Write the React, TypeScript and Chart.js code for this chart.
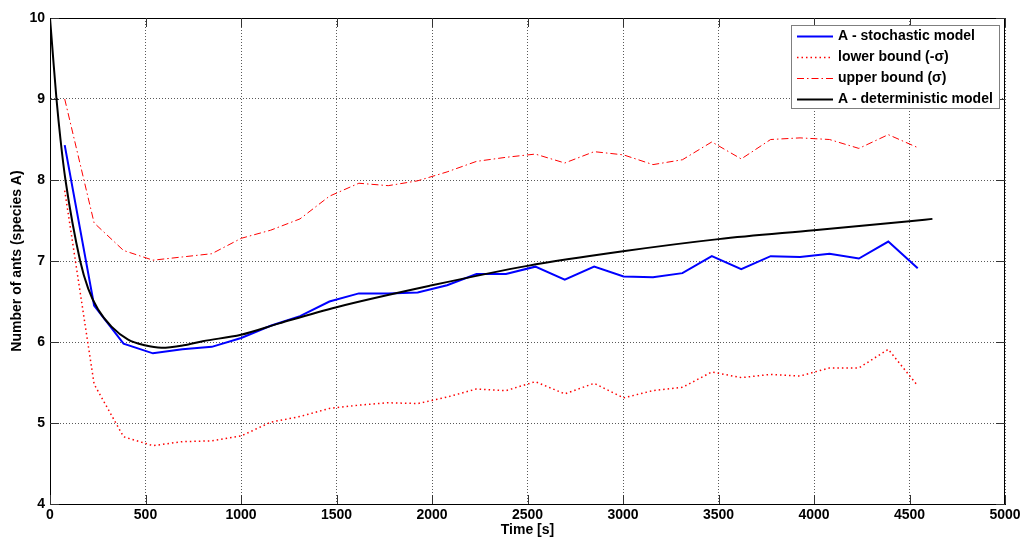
import React, { useEffect, useRef } from "react";
import { Chart, registerables } from "chart.js";

Chart.register(...registerables);

// Sample times of the stochastic simulation (s)
const sampleTimes = [77, 231, 385, 539, 693, 847, 1001, 1155, 1309, 1463, 1617, 1771, 1925, 2079, 2233, 2387, 2541, 2695, 2849, 3003, 3157, 3311, 3465, 3619, 3773, 3927, 4081, 4235, 4389, 4543];
const stochasticValues = [8.43, 6.45, 5.98, 5.86, 5.91, 5.94, 6.05, 6.2, 6.32, 6.5, 6.6, 6.6, 6.61, 6.7, 6.84, 6.84, 6.93, 6.77, 6.93, 6.81, 6.8, 6.85, 7.06, 6.9, 7.06, 7.05, 7.09, 7.03, 7.24, 6.91];
const lowerValues = [7.87, 5.48, 4.83, 4.72, 4.77, 4.78, 4.84, 5.01, 5.08, 5.18, 5.22, 5.25, 5.24, 5.32, 5.42, 5.4, 5.51, 5.36, 5.49, 5.31, 5.4, 5.44, 5.63, 5.56, 5.6, 5.58, 5.68, 5.68, 5.91, 5.46];
const upperValues = [9.0, 7.47, 7.13, 7.01, 7.05, 7.09, 7.28, 7.38, 7.52, 7.8, 7.96, 7.93, 7.99, 8.1, 8.23, 8.28, 8.32, 8.21, 8.35, 8.31, 8.19, 8.25, 8.47, 8.26, 8.5, 8.52, 8.5, 8.39, 8.56, 8.4];

// Deterministic model curve
const detTimes = [0, 15, 34, 55, 81, 158, 200, 252, 322, 409, 496, 584, 700, 800, 1000, 1200, 1500, 2000, 2500, 3000, 3500, 4000, 4500, 4620];
const detValues = [10, 9.55, 9.0, 8.5, 8.0, 7.0, 6.66, 6.4, 6.19, 6.03, 5.96, 5.93, 5.96, 6.01, 6.09, 6.23, 6.43, 6.7, 6.94, 7.12, 7.27, 7.38, 7.49, 7.52];

const seriesLabels = ["A - stochastic model", "lower bound (-σ)", "upper bound (σ)", "A - deterministic model"];
const xTitle = "Time [s]";
const yTitle = "Number of ants (species A)";

const FONT = "'Liberation Sans', Arial, sans-serif";

const boxPlugin = {
  id: "boxAndTicks",
  beforeDatasetsDraw(chart: any) {
    const { ctx, chartArea: a, scales } = chart;
    ctx.save();
    ctx.strokeStyle = "#000";
    ctx.lineWidth = 1;
    ctx.strokeRect(a.left + 0.5, a.top + 0.5, a.right - a.left - 1, a.bottom - a.top);
    ctx.strokeStyle = "#333";
    const tl = 9;
    scales.x.ticks.forEach((t: any) => {
      const px = Math.round(scales.x.getPixelForValue(t.value)) + 0.5;
      ctx.beginPath();
      ctx.moveTo(px, a.bottom);
      ctx.lineTo(px, a.bottom - tl);
      ctx.moveTo(px, a.top);
      ctx.lineTo(px, a.top + tl);
      ctx.stroke();
    });
    scales.y.ticks.forEach((t: any) => {
      const py = Math.round(scales.y.getPixelForValue(t.value)) + 0.5;
      ctx.beginPath();
      ctx.moveTo(a.left, py);
      ctx.lineTo(a.left + tl, py);
      ctx.moveTo(a.right, py);
      ctx.lineTo(a.right - tl, py);
      ctx.stroke();
    });
    ctx.restore();
  },
};

const legendPlugin = {
  id: "insideLegend",
  afterDraw(chart: any) {
    const { ctx } = chart;
    const ds = chart.data.datasets;
    const bx = 791, by = 25, bw = 208, bh = 83;
    ctx.save();
    ctx.fillStyle = "#fff";
    ctx.fillRect(bx, by, bw, bh);
    ctx.strokeStyle = "#7f7f7f";
    ctx.lineWidth = 1;
    ctx.strokeRect(bx + 0.5, by + 0.5, bw, bh);
    ctx.font = `bold 14px ${FONT}`;
    ctx.textBaseline = "middle";
    ctx.fillStyle = "#000";
    [0, 1, 2, 3].forEach((i, row) => {
      const d = ds[i];
      const y = by + 11 + row * 21 + 0.5;
      ctx.beginPath();
      ctx.strokeStyle = d.borderColor;
      ctx.lineWidth = d.borderWidth;
      ctx.setLineDash(d.borderDash || []);
      ctx.moveTo(797, y);
      ctx.lineTo(833, y);
      ctx.stroke();
      ctx.setLineDash([]);
      ctx.fillText(d.label, 838, y);
    });
    ctx.restore();
  },
};

export default function App() {
  const ref = useRef<HTMLCanvasElement>(null);
  useEffect(() => {
    if (!ref.current) return;
    const toPts = (xs: number[], ys: number[]) => xs.map((x, i) => ({ x, y: ys[i] }));
    const chart = new Chart(ref.current, {
      type: "line",
      data: {
        datasets: [
          {
            label: seriesLabels[0],
            data: toPts(sampleTimes, stochasticValues),
            borderColor: "#0000ff",
            borderWidth: 2,
            pointRadius: 0,
            order: 1,
          },
          {
            label: seriesLabels[1],
            data: toPts(sampleTimes, lowerValues),
            borderColor: "#ff0000",
            borderWidth: 1.5,
            borderDash: [1.5, 3],
            pointRadius: 0,
            order: 2,
          },
          {
            label: seriesLabels[2],
            data: toPts(sampleTimes, upperValues),
            borderColor: "#ff0000",
            borderWidth: 1,
            borderDash: [7, 3, 1.5, 3],
            pointRadius: 0,
            order: 3,
          },
          {
            label: seriesLabels[3],
            data: toPts(detTimes, detValues),
            borderColor: "#000000",
            borderWidth: 2,
            pointRadius: 0,
            cubicInterpolationMode: "monotone",
            order: 0,
          },
        ],
      } as any,
      options: {
        responsive: false,
        animation: false,
        devicePixelRatio: 1,
        layout: { padding: { top: 18, right: 19, left: 0, bottom: 0 } },
        plugins: { legend: { display: false }, tooltip: { enabled: false } },
        scales: {
          x: {
            type: "linear",
            min: 0,
            max: 5000,
            afterFit: (s: any) => { s.height = 39; },
            ticks: {
              stepSize: 500,
              color: "#000",
              padding: 3,
              maxRotation: 0,
              callback: (v: any) => String(v),
              font: { family: FONT, size: 14, weight: "bold" },
            },
            grid: { color: "rgba(0,0,0,0.65)", drawTicks: false } as any,
            border: { display: true, color: "#000", dash: [1, 2] } as any,
            title: { display: true, text: xTitle, color: "#000", padding: { top: 0, bottom: 4 }, font: { family: FONT, size: 14, weight: "bold" } },
          },
          y: {
            type: "linear",
            min: 4,
            max: 10,
            afterFit: (s: any) => { s.width = 50; },
            ticks: { stepSize: 1, color: "#000", padding: 5, callback: (v: any) => String(v), font: { family: FONT, size: 14, weight: "bold" } },
            grid: { color: "rgba(0,0,0,0.65)", drawTicks: false } as any,
            border: { display: true, color: "#000", dash: [1, 2] } as any,
            title: { display: true, text: yTitle, color: "#000", padding: { top: 9, bottom: 0 }, font: { family: FONT, size: 14, weight: "bold" } },
          },
        },
      } as any,
      plugins: [boxPlugin, legendPlugin],
    });
    return () => chart.destroy();
  }, []);
  return (
    <div style={{ position: "fixed", left: 0, top: 0, width: 1024, height: 543, background: "#fff" }}>
      <canvas ref={ref} width={1024} height={543} />
    </div>
  );
}
